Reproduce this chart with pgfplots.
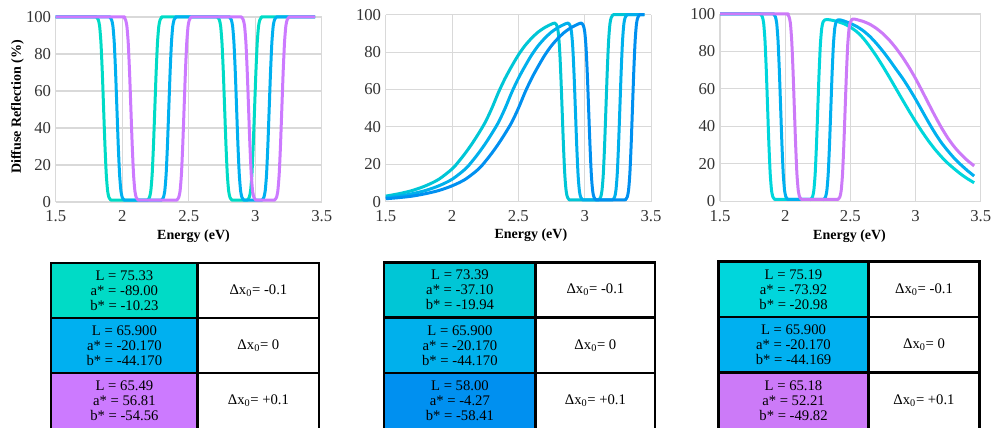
\documentclass[border=0pt]{standalone}
\usepackage{pgfplots}
\pgfplotsset{compat=1.18}
\usepackage{fontspec}
\setmainfont{Liberation Serif}

\definecolor{ateal}{RGB}{0,219,198}
\definecolor{ablue}{RGB}{0,176,240}
\definecolor{apurp}{RGB}{204,122,255}
\definecolor{bteal}{RGB}{0,198,214}
\definecolor{bblue}{RGB}{0,176,236}
\definecolor{bdark}{RGB}{0,144,240}
\definecolor{cteal}{RGB}{0,214,220}
\definecolor{cblue}{RGB}{0,176,240}
\definecolor{cpurp}{RGB}{204,122,248}

\pgfplotsset{
  refl/.style={
    scale only axis,
    xmin=1.5, xmax=3.5, ymin=0, ymax=100,
    xtick={1.5,2,2.5,3,3.5}, ytick={0,20,40,60,80,100},
    grid=major, major grid style={draw=black!15, line width=0.8pt},
    axis line style={draw=none}, major tick length=0pt,
    tick label style={font=\fontsize{12.5}{14}\selectfont, text=black!80},
    /pgf/number format/assume math mode=true,
    xticklabel style={yshift=-3pt},
    clip=false,
    xlabel={Energy (eV)},
    xlabel style={font=\fontsize{10.5}{12}\selectfont\bfseries, anchor=center},
    ylabel style={font=\fontsize{10.5}{12}\selectfont\bfseries, anchor=center},
    every axis plot/.append style={smooth, tension=0.35, line width=2.25pt, line join=round},
  }
}

\begin{document}
\begin{tikzpicture}
\useasboundingbox (0,0) rectangle (744pt,321pt);

% ---- left panel ----
\begin{axis}[refl, at={(41.8pt,169.5pt)}, width=199.5pt, height=138.75pt,
  ylabel={Diffuse Reflection (\%)},
  ylabel style={at={(axis description cs:-0.144,0.513)}},
  xlabel style={at={(axis description cs:0.518,-0.184)}}]
\addplot[ateal] coordinates {(1.5,100)
 (1.79,100)(1.805,100)(1.82,98.5)(1.83,95.1)(1.84,86.1)(1.85,70.3)(1.86,50.5)(1.87,30.7)(1.88,14.9)(1.89,6)(1.9,2.5)(1.915,1)(1.93,1)
 (2.175,1)(2.19,1)(2.205,2.5)(2.215,6)(2.225,14.9)(2.235,30.7)(2.245,50.5)(2.255,70.3)(2.265,86.1)(2.275,95.1)(2.285,98.5)(2.3,100)(2.315,100)
 (2.7,100)(2.715,100)(2.73,98.5)(2.74,95.1)(2.75,86.1)(2.76,70.3)(2.77,50.5)(2.78,30.7)(2.79,14.9)(2.8,6)(2.81,2.5)(2.825,1)(2.84,1)
 (2.925,1)(2.94,1)(2.955,2.5)(2.965,6)(2.975,14.9)(2.985,30.7)(2.995,50.5)(3.005,70.3)(3.015,86.1)(3.025,95.1)(3.035,98.5)(3.05,100)(3.065,100)
 (3.45,100)};
\addplot[ablue] coordinates {(1.5,100)
 (1.89,100)(1.905,100)(1.92,98.5)(1.93,95.1)(1.94,86.1)(1.95,70.3)(1.96,50.5)(1.97,30.7)(1.98,14.9)(1.99,6)(2.0,2.5)(2.015,1)(2.03,1)
 (2.28,1)(2.295,1)(2.31,2.5)(2.32,6)(2.33,14.9)(2.34,30.7)(2.35,50.5)(2.36,70.3)(2.37,86.1)(2.38,95.1)(2.39,98.5)(2.405,100)(2.42,100)
 (2.79,100)(2.805,100)(2.82,98.5)(2.83,95.1)(2.84,86.1)(2.85,70.3)(2.86,50.5)(2.87,30.7)(2.88,14.9)(2.89,6)(2.9,2.5)(2.915,1)(2.93,1)
 (3.035,1)(3.05,1)(3.065,2.5)(3.075,6)(3.085,14.9)(3.095,30.7)(3.105,50.5)(3.115,70.3)(3.125,86.1)(3.135,95.1)(3.145,98.5)(3.16,100)(3.175,100)
 (3.45,100)};
\addplot[apurp] coordinates {(1.5,100)
 (1.995,100)(2.01,100)(2.025,98.5)(2.035,95.1)(2.045,86.1)(2.055,70.3)(2.065,50.5)(2.075,30.7)(2.085,14.9)(2.095,6)(2.105,2.5)(2.12,1)(2.135,1)
 (2.395,1)(2.41,1)(2.425,2.5)(2.435,6)(2.445,14.9)(2.455,30.7)(2.465,50.5)(2.475,70.3)(2.485,86.1)(2.495,95.1)(2.505,98.5)(2.52,100)(2.535,100)
 (2.88,100)(2.895,100)(2.91,98.5)(2.92,95.1)(2.93,86.1)(2.94,70.3)(2.95,50.5)(2.96,30.7)(2.97,14.9)(2.98,6)(2.99,2.5)(3.005,1)(3.02,1)
 (3.13,1)(3.145,1)(3.16,2.5)(3.17,6)(3.18,14.9)(3.19,30.7)(3.2,50.5)(3.21,70.3)(3.22,86.1)(3.23,95.1)(3.24,98.5)(3.255,100)(3.27,100)
 (3.45,100)};
\end{axis}

% ---- middle panel ----
\begin{axis}[refl, at={(289.3pt,169.7pt)}, width=199pt, height=140.25pt,
  every axis plot/.append style={tension=0.5},
  xlabel style={at={(axis description cs:0.547,-0.178)}}]
\addplot[bteal] coordinates {(1.5,3)(1.6,4.3)(1.7,6)(1.8,8.5)(1.9,12)(2.0,17.5)(2.05,21.5)(2.1,26)(2.15,31)(2.2,36.5)(2.25,42.5)(2.3,50)(2.35,58.5)(2.4,66)(2.45,72.5)(2.5,78.5)(2.55,83.5)(2.6,87.5)(2.65,90.8)(2.7,93.2)(2.75,95)(2.775,95.5)
 (2.79,94.1)(2.8,90.8)(2.81,82.3)(2.82,67.2)(2.83,48.3)(2.84,29.4)(2.85,14.2)(2.86,5.7)(2.87,2.4)(2.885,1)(2.9,1)
 (3.09,1)(3.105,1)(3.12,2.5)(3.13,6)(3.14,14.9)(3.15,30.7)(3.16,50.5)(3.17,70.3)(3.18,86.1)(3.19,95.1)(3.2,98.5)(3.215,100)(3.23,100)
 (3.45,100)};
\addplot[bblue] coordinates {(1.5,2.2)(1.6,3)(1.7,4.3)(1.8,6)(1.9,8.5)(2.0,12)(2.1,17.5)(2.15,21.5)(2.2,26)(2.25,31)(2.3,36.5)(2.35,42.5)(2.4,50)(2.45,58.5)(2.5,66)(2.55,72.5)(2.6,78.5)(2.65,83.5)(2.7,87.5)(2.75,90.8)(2.8,93.2)(2.85,95)(2.875,95.5)
 (2.89,94.1)(2.9,90.8)(2.91,82.3)(2.92,67.2)(2.93,48.3)(2.94,29.4)(2.95,14.2)(2.96,5.7)(2.97,2.4)(2.985,1)(3.0,1)
 (3.195,1)(3.21,1)(3.225,2.5)(3.235,6)(3.245,14.9)(3.255,30.7)(3.265,50.5)(3.275,70.3)(3.285,86.1)(3.295,95.1)(3.305,98.5)(3.32,100)(3.335,100)
 (3.45,100)};
\addplot[bdark] coordinates {(1.5,1.6)(1.6,2.2)(1.7,3)(1.8,4.3)(1.9,6)(2.0,8.5)(2.1,12)(2.2,17.5)(2.25,21.5)(2.3,26)(2.35,31)(2.4,36.5)(2.45,42.5)(2.5,50)(2.55,58.5)(2.6,66)(2.65,72.5)(2.7,78.5)(2.75,83.5)(2.8,87.5)(2.85,90.8)(2.9,93.2)(2.95,95)(2.975,95.5)
 (2.99,94.1)(3.0,90.8)(3.01,82.3)(3.02,67.2)(3.03,48.3)(3.04,29.4)(3.05,14.2)(3.06,5.7)(3.07,2.4)(3.085,1)(3.1,1)
 (3.29,1)(3.305,1)(3.32,2.5)(3.33,6)(3.34,14.9)(3.35,30.7)(3.36,50.5)(3.37,70.3)(3.38,86.1)(3.39,95.1)(3.4,98.5)(3.415,100)(3.43,100)
 (3.45,100)};
\end{axis}

% ---- right panel ----
\begin{axis}[refl, at={(540pt,170pt)}, width=195.5pt, height=140.5pt,
  xlabel style={at={(axis description cs:0.497,-0.185)}}]
\addplot[cteal] coordinates {(1.5,100)
 (1.795,100)(1.81,100)(1.825,98.5)(1.835,95.1)(1.845,86.1)(1.855,70.3)(1.865,50.5)(1.875,30.7)(1.885,14.9)(1.895,6)(1.905,2.5)(1.92,1)(1.935,1)
 (2.18,1)(2.195,1)(2.21,2.4)(2.22,5.8)(2.23,14.4)(2.24,29.8)(2.25,49)(2.26,68.2)(2.27,83.6)(2.28,92.2)(2.29,95.6)(2.305,96.9)(2.325,97)
 (2.35,96.8)(2.4,96)(2.45,94.8)(2.5,93)(2.55,90.5)(2.6,87)(2.65,82.5)(2.7,77.5)(2.75,72)(2.8,66.2)(2.85,60.2)(2.9,54.2)(2.95,48.3)(3.0,42.6)
 (3.05,37.2)(3.1,32.2)(3.15,27.7)(3.2,23.7)(3.25,20.2)(3.3,17.2)(3.35,14.4)(3.4,12)(3.45,9.9)};
\addplot[cblue] coordinates {(1.5,100)
 (1.895,100)(1.91,100)(1.925,98.5)(1.935,95.1)(1.945,86.1)(1.955,70.3)(1.965,50.5)(1.975,30.7)(1.985,14.9)(1.995,6)(2.005,2.5)(2.02,1)(2.035,1)
 (2.28,1)(2.295,1)(2.31,2.4)(2.32,5.8)(2.33,14.4)(2.34,29.8)(2.35,49)(2.36,68.2)(2.37,83.6)(2.38,92.2)(2.39,95.6)(2.405,96.9)(2.425,96.8)
 (2.45,96.3)(2.5,95)(2.55,93.3)(2.6,91)(2.65,88)(2.7,84.3)(2.75,80.1)(2.8,75.5)(2.85,70.6)(2.9,65.8)(2.95,60.4)(3.0,54.6)
 (3.05,48.4)(3.1,42.2)(3.15,36.4)(3.2,31.2)(3.25,26.8)(3.3,22.8)(3.35,19.4)(3.4,16.3)(3.45,13.5)};
\addplot[cpurp] coordinates {(1.5,100)
 (2.0,100)(2.015,100)(2.03,98.5)(2.04,95.1)(2.05,86.1)(2.06,70.3)(2.07,50.5)(2.08,30.7)(2.09,14.9)(2.1,6)(2.11,2.5)(2.125,1)(2.14,1)
 (2.39,1)(2.405,1)(2.42,2.4)(2.43,5.8)(2.44,14.4)(2.45,29.8)(2.46,49)(2.47,68.2)(2.48,83.6)(2.49,92.2)(2.5,95.6)(2.515,97.2)(2.53,97.3)
 (2.55,97)(2.6,96)(2.65,94.5)(2.7,92.3)(2.75,89.5)(2.8,86)(2.85,81.8)(2.9,77)(2.95,71.6)(3.0,65.6)
 (3.05,59)(3.1,52.2)(3.15,45.5)(3.2,39.2)(3.25,33.6)(3.3,28.9)(3.35,25)(3.4,21.7)(3.45,18.9)};
\end{axis}

% ---- colour tables (pixel coordinates, y down) ----
\begin{scope}[x=0.75pt, y=-0.75pt, yshift=321pt]
\clip (0,0) rectangle (992,428);
\tikzset{cell/.style={align=center, inner sep=0pt, font=\fontsize{11}{11.25}\selectfont},
         rule/.style={line width=2pt, draw=black}}
% table 1
\fill[ateal] (51,263) rectangle (197.7,318);
\fill[ablue] (51,318) rectangle (197.7,373);
\fill[apurp] (51,373) rectangle (197.7,440);
\draw[rule] (51,440) -- (51,263) -- (319,263) -- (319,440);
\draw[rule] (197.7,263) -- (197.7,440) (51,318) -- (319,318) (51,373) -- (319,373);
\node[cell] at (124.4,290.5) {L = 75.33\\a* = -89.00\\b* = -10.23};
\node[cell] at (124.4,345.5) {L = 65.900\\a* = -20.170\\b* = -44.170};
\node[cell] at (124.4,400.5) {L = 65.49\\a* = 56.81\\b* = -54.56};
\node[cell] at (258.4,290.5) {Δx\textsubscript{0}= -0.1};
\node[cell] at (258.4,345.5) {Δx\textsubscript{0}= 0};
\node[cell] at (258.4,400.5) {Δx\textsubscript{0}= +0.1};
% table 2
\fill[bteal] (384,262.3) rectangle (535.7,317.7);
\fill[bblue] (384,317.7) rectangle (535.7,373);
\fill[bdark] (384,373) rectangle (535.7,440);
\draw[rule] (384,440) -- (384,262.3) -- (655,262.3) -- (655,440);
\draw[rule] (535.7,262.3) -- (535.7,440) (384,317.7) -- (655,317.7) (384,373) -- (655,373);
\node[cell] at (459.9,290) {L = 73.39\\a* = -37.10\\b* = -19.94};
\node[cell] at (459.9,345.3) {L = 65.900\\a* = -20.170\\b* = -44.170};
\node[cell] at (459.9,400.5) {L = 58.00\\a* = -4.27\\b* = -58.41};
\node[cell] at (595.4,290) {Δx\textsubscript{0}= -0.1};
\node[cell] at (595.4,345.3) {Δx\textsubscript{0}= 0};
\node[cell] at (595.4,400.5) {Δx\textsubscript{0}= +0.1};
% table 3
\fill[cteal] (718.3,261.7) rectangle (868.7,317);
\fill[cblue] (718.3,317) rectangle (868.7,372.7);
\fill[cpurp] (718.3,372.7) rectangle (868.7,440);
\draw[rule] (718.3,440) -- (718.3,261.7) -- (979.3,261.7) -- (979.3,440);
\draw[rule] (868.7,261.7) -- (868.7,440) (718.3,317) -- (979.3,317) (718.3,372.7) -- (979.3,372.7);
\node[cell] at (793.5,289.4) {L = 75.19\\a* = -73.92\\b* = -20.98};
\node[cell] at (793.5,344.9) {L = 65.900\\a* = -20.170\\b* = -44.169};
\node[cell] at (793.5,400.3) {L = 65.18\\a* = 52.21\\b* = -49.82};
\node[cell] at (924,289.4) {Δx\textsubscript{0}= -0.1};
\node[cell] at (924,344.9) {Δx\textsubscript{0}= 0};
\node[cell] at (924,400.3) {Δx\textsubscript{0}= +0.1};
\end{scope}
\end{tikzpicture}
\end{document}
